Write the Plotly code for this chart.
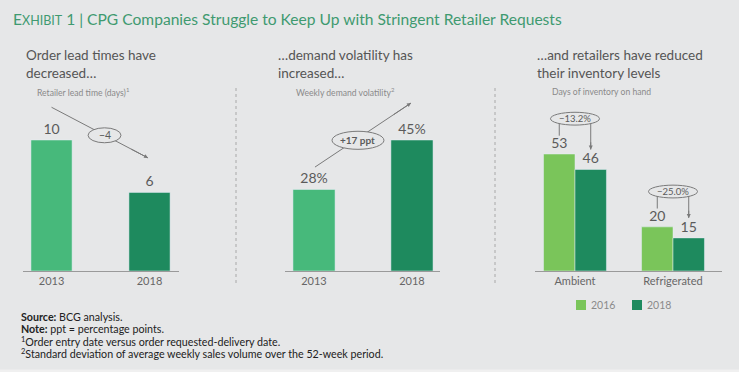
import plotly.graph_objects as go

# ---------------- data ----------------
lead_years = ["2013", "2018"]
lead_days = [10, 6]
lead_change = "−4"

vol_years = ["2013", "2018"]
vol_pct = [28, 45]
vol_change = "+17 ppt"

inv_categories = ["Ambient", "Refrigerated"]
inv_2016 = [53, 20]
inv_2018 = [46, 15]
inv_changes = ["−13.2%", "−25.0%"]
inv_series = ["2016", "2018"]

# ---------------- style ----------------
W, H = 739, 372
BG = "#e6e7e8"
LIGHT = "#47b97b"
DARK = "#1e8a5e"
LIME = "#7ac55a"
TXT = "#5b5b5b"
LINE = "#7a7a7a"
FONT = "Lato"

def X(px):
    return px / W

def Y(py):
    return 1 - py / H

base_py, top_py = 271, 88
ydom = [Y(base_py), Y(top_py)]
plot_h = base_py - top_py

fig = go.Figure()

# Panel 1
fig.add_trace(go.Bar(
    x=lead_years, y=lead_days, marker_color=[LIGHT, DARK], width=0.42,
    text=[str(v) for v in lead_days], textposition="outside", cliponaxis=False,
    textfont=dict(size=14, color=TXT, family=FONT), showlegend=False,
    xaxis="x", yaxis="y", hoverinfo="skip"))

# Panel 2
fig.add_trace(go.Bar(
    x=vol_years, y=vol_pct, marker_color=[LIGHT, DARK], width=0.43,
    text=[f"{v}%" for v in vol_pct], textposition="outside", cliponaxis=False,
    textfont=dict(size=14, color=TXT, family=FONT), showlegend=False,
    xaxis="x2", yaxis="y2", hoverinfo="skip"))

# Panel 3
bw = 0.321
fig.add_trace(go.Bar(
    x=inv_categories, y=inv_2016, name=inv_series[0], marker_color=LIME,
    width=bw, offset=-bw, text=[str(v) for v in inv_2016],
    textposition="outside", cliponaxis=False, showlegend=False,
    textfont=dict(size=14, color=TXT, family=FONT),
    xaxis="x3", yaxis="y3", hoverinfo="skip"))
fig.add_trace(go.Bar(
    x=inv_categories, y=inv_2018, name=inv_series[1], marker_color=DARK,
    width=bw, offset=0, text=[str(v) for v in inv_2018],
    textposition="outside", cliponaxis=False, showlegend=False,
    textfont=dict(size=14, color=TXT, family=FONT),
    xaxis="x3", yaxis="y3", hoverinfo="skip"))

shapes = []
annotations = []

def xaxis_cfg(dom, rng):
    return dict(domain=[X(dom[0]), X(dom[1])], range=rng, type="category",
                showline=True, linecolor="#9a9a9a", linewidth=1,
                showgrid=False, zeroline=False, ticks="", fixedrange=True,
                tickfont=dict(size=11, color="#666666", family=FONT))

def yaxis_cfg(anchor, vmax, vpx):
    return dict(domain=ydom, range=[0, vmax * plot_h / vpx], visible=False,
                anchor=anchor, fixedrange=True)

fig.update_layout(
    xaxis=xaxis_cfg((23, 179), [-0.291, 1.301]) | dict(anchor="y"),
    yaxis=yaxis_cfg("x", lead_days[0], 131),
    xaxis2=xaxis_cfg((285, 440), [-0.296, 1.286]) | dict(anchor="y2"),
    yaxis2=yaxis_cfg("x2", vol_pct[1], 131),
    xaxis3=xaxis_cfg((535, 722), [-0.408, 1.500]) | dict(anchor="y3"),
    yaxis3=yaxis_cfg("x3", inv_2016[0], 117),
)

# ---- panel 1 change arrow ----
s1 = (0.0, lead_days[0] + 2.5)
e1 = (0.985, lead_days[1] + 2.63)
shapes.append(dict(type="line", xref="x", yref="y", x0=s1[0], y0=s1[1],
                   x1=e1[0], y1=e1[1], line=dict(color=LINE, width=1)))
annotations.append(dict(xref="x", yref="y", axref="x", ayref="y",
                        x=e1[0], y=e1[1], ax=0.8, ay=s1[1] + (e1[1] - s1[1]) * 0.8 / 0.985,
                        text="", showarrow=True, arrowhead=2, arrowsize=0.8,
                        arrowwidth=1, arrowcolor=LINE, standoff=0))
c1 = (0.541, 10.36)
shapes.append(dict(type="circle", xref="x", yref="y", x0=c1[0] - 0.168, x1=c1[0] + 0.168,
                   y0=c1[1] - 0.57, y1=c1[1] + 0.57, fillcolor=BG,
                   line=dict(color=LINE, width=1)))
annotations.append(dict(xref="x", yref="y", x=c1[0], y=c1[1], text=lead_change,
                        showarrow=False, font=dict(size=10.5, color=TXT, family=FONT)))

# ---- panel 2 change arrow ----
s2 = (0.01, vol_pct[0] + 7.7)
e2 = (0.99, vol_pct[1] + 12.7)
shapes.append(dict(type="line", xref="x2", yref="y2", x0=s2[0], y0=s2[1],
                   x1=e2[0], y1=e2[1], line=dict(color=LINE, width=1)))
annotations.append(dict(xref="x2", yref="y2", axref="x2", ayref="y2",
                        x=e2[0], y=e2[1], ax=0.8, ay=s2[1] + (e2[1] - s2[1]) * 0.79 / 0.98,
                        text="", showarrow=True, arrowhead=2, arrowsize=0.8,
                        arrowwidth=1, arrowcolor=LINE, standoff=0))
c2 = (0.449, 44.9)
shapes.append(dict(type="circle", xref="x2", yref="y2", x0=c2[0] - 0.265, x1=c2[0] + 0.265,
                   y0=c2[1] - 3.1, y1=c2[1] + 3.1, fillcolor=BG,
                   line=dict(color=LINE, width=1)))
annotations.append(dict(xref="x2", yref="y2", x=c2[0], y=c2[1], text="<b>" + vol_change + "</b>",
                        showarrow=False, font=dict(size=10, color=TXT, family=FONT)))

# ---- panel 3 brackets ----
for i, (a, b, lab) in enumerate(zip(inv_2016, inv_2018, inv_changes)):
    cy = a + 16
    lx, rx = i - bw / 2, i + bw / 2
    shapes.append(dict(type="line", xref="x3", yref="y3", x0=lx, x1=lx, y0=cy,
                       y1=a + 8.3, line=dict(color=LINE, width=1)))
    shapes.append(dict(type="line", xref="x3", yref="y3", x0=rx, x1=rx, y0=cy,
                       y1=b + 9, line=dict(color=LINE, width=1)))
    annotations.append(dict(xref="x3", yref="y3", axref="x3", ayref="y3",
                            x=rx, y=b + 9, ax=rx, ay=b + 13, text="", showarrow=True,
                            arrowhead=2, arrowsize=0.8, arrowwidth=1,
                            arrowcolor=LINE, standoff=0))
    shapes.append(dict(type="circle", xref="x3", yref="y3", x0=i - 0.25, x1=i + 0.25,
                       y0=cy - 2.9, y1=cy + 2.9, fillcolor=BG,
                       line=dict(color=LINE, width=1)))
    annotations.append(dict(xref="x3", yref="y3", x=i, y=cy, text=lab,
                            showarrow=False, font=dict(size=9.5, color=TXT, family=FONT)))

# ---- separators ----
for sx in (236, 495):
    shapes.append(dict(type="line", xref="paper", yref="paper", x0=X(sx), x1=X(sx),
                       y0=Y(88), y1=Y(284), line=dict(color="#a8a8a8", width=1, dash="dot")))

# ---- bottom light strip ----
shapes.append(dict(type="rect", xref="paper", yref="paper", x0=0, x1=1,
                   y0=0, y1=Y(369.5), fillcolor="#f0f0f0", line=dict(width=0)))

# ---- texts ----
def txt(x, y, s, size, color=TXT, xanchor="left"):
    annotations.append(dict(xref="paper", yref="paper", x=X(x), y=Y(y), text=s,
                            showarrow=False, xanchor=xanchor, yanchor="middle",
                            align="left", font=dict(size=size, color=color, family=FONT)))

txt(11, 19, "E<span style='font-size:12.5px'>XHIBIT</span> 1 | CPG Companies Struggle to Keep Up with Stringent Retailer Requests",
    15.6, color="#3f9a70")

txt(24, 64, "Order lead times have<br>decreased…", 13.5, color="#555555")
txt(276, 64, "…demand volatility has<br>increased…", 13.5, color="#555555")
txt(535, 64, "…and retailers have reduced<br>their inventory levels", 13.5, color="#555555")

txt(35, 92, "Retailer lead time (days)<sup>1</sup>", 8.6, color="#8a8a8a")
txt(294, 92, "Weekly demand volatility<sup>2</sup>", 8.6, color="#8a8a8a")
txt(550, 92, "Days of inventory on hand", 8.6, color="#8a8a8a")

foot_color = "#222222"
txt(19, 316, "<b>Source:</b> BCG analysis.", 10.7, color=foot_color)
txt(19, 328, "<b>Note:</b> ppt = percentage points.", 10.7, color=foot_color)
txt(19, 341, "<sup>1</sup>Order entry date versus order requested-delivery date.", 10.7, color=foot_color)
txt(19, 353, "<sup>2</sup>Standard deviation of average weekly sales volume over the 52-week period.", 10.7, color=foot_color)

# ---- manual legend ----
for lx, col, name in zip((576, 632), (LIME, DARK), inv_series):
    shapes.append(dict(type="rect", xref="paper", yref="paper", x0=X(lx), x1=X(lx + 10),
                       y0=Y(310), y1=Y(300), fillcolor=col, line=dict(width=0)))
    txt(lx + 13, 305, name, 10.5, color="#8a8a8a")

fig.update_layout(
    width=W, height=H, autosize=False,
    margin=dict(l=0, r=0, t=0, b=0),
    paper_bgcolor=BG, plot_bgcolor=BG,
    barmode="group",
    shapes=shapes, annotations=annotations,
    showlegend=False,
    font=dict(family=FONT),
)

fig.write_html("out.html", config={"displayModeBar": False},
               post_script="document.body.style.margin='0';document.body.style.padding='0';")
